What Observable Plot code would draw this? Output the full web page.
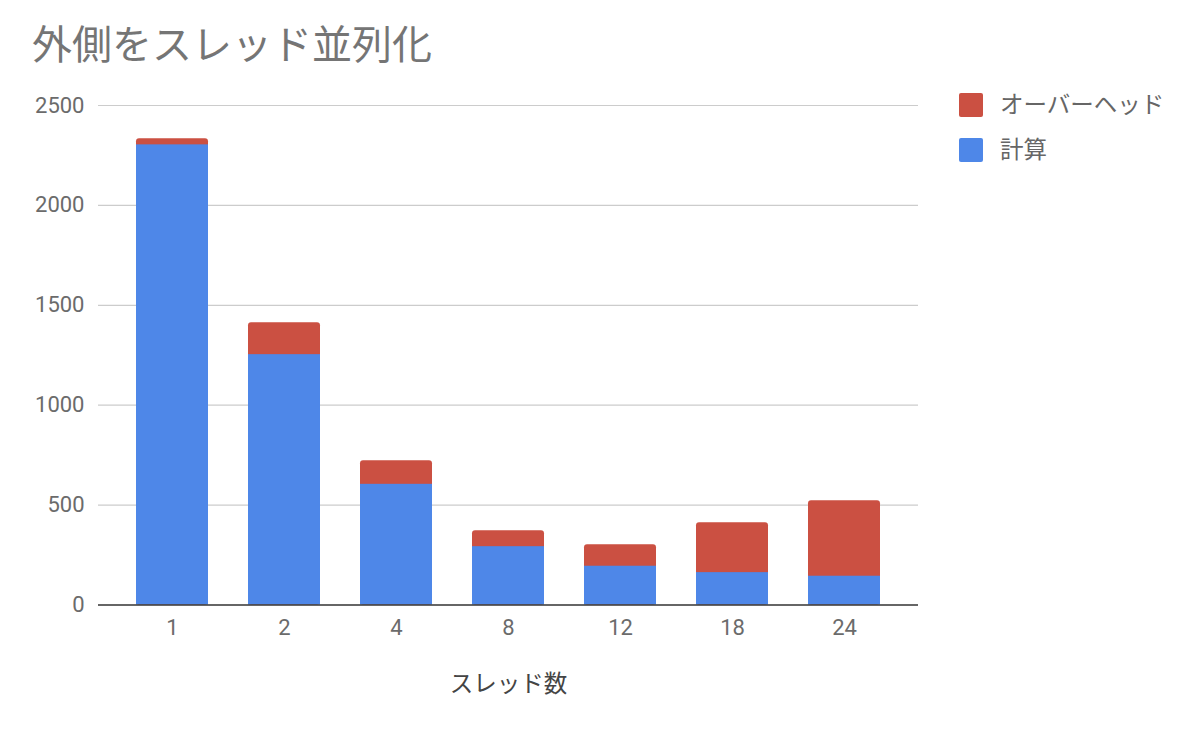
<!DOCTYPE html>
<html>
<head>
<meta charset="utf-8">
<script src="https://cdn.jsdelivr.net/npm/d3@7"></script>
<script src="https://cdn.jsdelivr.net/npm/@observablehq/plot@0.6"></script>
<style>
  body { margin: 0; background: #fff; }
  #wrap { position: relative; width: 1194px; height: 736px; font-family: Roboto, "Noto Sans CJK JP", sans-serif; }
  #title { position: absolute; left: 32px; top: 26px; font-size: 40px; line-height: 1; color: #757575; white-space: nowrap; }
  .leg { position: absolute; left: 959px; display: flex; align-items: center; font-size: 23.5px; line-height: 24px; color: #666666; white-space: nowrap; }
  .sw { width: 24px; height: 24px; border-radius: 2px; margin-right: 17px; }
  #chart { position: absolute; left: 0; top: 0; }
</style>
</head>
<body>
<div id="wrap">
  <div id="chart"></div>
  <div id="title">外側をスレッド並列化</div>
  <div class="leg" style="top:93px"><div class="sw" style="background:#cb5042"></div>オーバーヘッド</div>
  <div class="leg" style="top:138px"><div class="sw" style="background:#4e87e8"></div>計算</div>
</div>
<script>
const threads = ["1", "2", "4", "8", "12", "18", "24"];
const computeValues = [2303, 1253, 604, 292, 194, 162, 144];
const overheadValues = [30, 160, 118, 80, 108, 250, 378];
const yTicks = [0, 500, 1000, 1500, 2000, 2500];
const xTitle = "スレッド数";

const data = threads.map((t, i) => ({
  t,
  compute: computeValues[i],
  total: computeValues[i] + overheadValues[i]
}));

const chart = Plot.plot({
  width: 1194,
  height: 736,
  marginTop: 105,
  marginBottom: 131.5,
  marginLeft: 98,
  marginRight: 276,
  style: { fontFamily: 'Roboto, "Noto Sans CJK JP", sans-serif', fontSize: "22px", color: "#6b6b6b", background: "transparent" },
  x: { domain: threads, paddingInner: 0.357, paddingOuter: 0.339, label: null },
  y: { domain: [0, 2500], label: null },
  marks: [
    Plot.gridY(yTicks.slice(1), { stroke: "#cccccc", strokeOpacity: 1, strokeWidth: 1.2 }),
    Plot.axisY(yTicks, { tickSize: 0, tickPadding: 14, tickFormat: d => String(d), label: null, fontSize: 22, fill: "#6b6b6b" }),
    Plot.axisX({ tickSize: 0, tickPadding: 14, label: null, fontSize: 22, fill: "#6b6b6b" }),
    Plot.barY(data, { x: "t", y: "total", fill: "#cb5042", rx: 3 }),
    Plot.barY(data, { x: "t", y: "compute", fill: "#4e87e8" }),
    Plot.ruleY([0], { stroke: "#333333", strokeWidth: 1.6 }),
    Plot.text([xTitle], { text: d => d, frameAnchor: "bottom", dy: 87, fontSize: 23.5, fill: "#444444" })
  ]
});
document.getElementById("chart").appendChild(chart);
</script>
</body>
</html>
